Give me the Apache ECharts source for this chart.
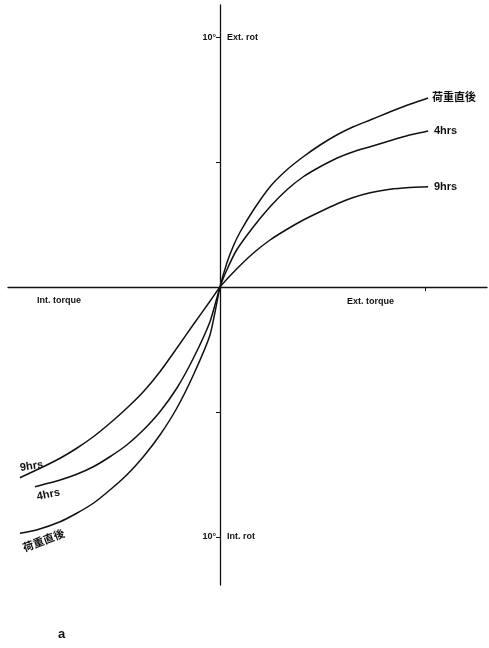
<!DOCTYPE html>
<html>
<head>
<meta charset="utf-8">
<script src="https://cdn.jsdelivr.net/npm/echarts@6/dist/echarts.min.js"></script>
<style>
  html, body { margin: 0; padding: 0; background: #fff; }
  #main { width: 489px; height: 648px; }
</style>
</head>
<body>
<div id="main"></div>
<script>
// 各曲线数据 [torque, rotation(deg)]
var curveInit = [
  [-9.76, -9.85], [-8.95, -9.72], [-7.80, -9.39], [-6.99, -9.05], [-6.18, -8.65],
  [-5.37, -8.12], [-4.55, -7.52], [-3.74, -6.79], [-2.93, -5.92], [-2.11, -4.85],
  [-1.30, -3.52], [-0.49, -1.92], [0, 0], [0.33, 0.95], [0.65, 1.64], [0.98, 2.2],
  [1.63, 3.08], [2.44, 4.01], [3.25, 4.68], [4.06, 5.21], [4.88, 5.68], [5.69, 6.08],
  [6.50, 6.41], [7.32, 6.68], [8.13, 6.95], [8.94, 7.21], [9.76, 7.45], [10.15, 7.56]
];
var curve4h = [
  [-9.02, -7.99], [-7.80, -7.72], [-6.99, -7.49], [-6.18, -7.19], [-5.37, -6.79],
  [-4.55, -6.32], [-3.74, -5.72], [-2.93, -4.99], [-2.11, -4.05], [-1.30, -2.85],
  [-0.49, -1.39], [0, 0], [0.33, 0.68], [0.81, 1.48], [1.63, 2.41], [2.44, 3.21],
  [3.25, 3.88], [4.06, 4.41], [4.88, 4.81], [5.69, 5.15], [6.50, 5.41], [7.32, 5.61],
  [8.13, 5.81], [8.94, 6.01], [9.76, 6.17], [10.15, 6.24]
];
var curve9h = [
  [-9.76, -7.63], [-8.62, -7.19], [-7.80, -6.85], [-6.99, -6.45], [-6.18, -5.99],
  [-5.37, -5.45], [-4.55, -4.85], [-3.74, -4.19], [-2.93, -3.39], [-2.11, -2.45],
  [-1.30, -1.50], [-0.49, -0.57], [0, 0], [0.81, 0.72], [1.63, 1.36], [2.44, 1.88],
  [3.25, 2.30], [4.06, 2.68], [4.88, 3.01], [5.69, 3.32], [6.50, 3.58], [7.32, 3.77],
  [8.13, 3.89], [8.94, 3.96], [9.76, 4.00], [10.15, 4.01]
];
var yTicks = [-10, -5, 5, 10];
var xTicks = [10];

var chart = echarts.init(document.getElementById('main'));

var lineSeries = function (name, data) {
  return {
    name: name,
    type: 'line',
    data: data,
    smooth: 0.2,
    symbol: 'none',
    silent: true,
    lineStyle: { color: '#111', width: 1.5 }
  };
};

var txt = function (x, y, text, opt) {
  opt = opt || {};
  return {
    type: 'text',
    x: x,
    y: y,
    rotation: opt.rot || 0,
    style: {
      text: text,
      fill: '#111',
      font: 'bold ' + (opt.size || 10) + 'px ' + (opt.family || '"Liberation Sans", Arial, sans-serif'),
      textAlign: opt.align || 'left',
      textVerticalAlign: 'middle'
    }
  };
};

var cjk = '"Noto Sans CJK JP", "Noto Sans CJK SC", sans-serif';

chart.setOption({
  animation: false,
  grid: { left: 8, right: 2, top: 5, bottom: 63, outerBoundsMode: 'none', containLabel: false },
  xAxis: {
    type: 'value',
    min: -10.34,
    max: 13.02,
    splitLine: { show: false },
    axisLine: { onZero: true, lineStyle: { color: '#111', width: 1.3 } },
    axisTick: { customValues: xTicks, length: 4, lineStyle: { color: '#111' } },
    axisLabel: { show: false }
  },
  yAxis: {
    type: 'value',
    min: -11.92,
    max: 11.28,
    splitLine: { show: false },
    axisLine: { onZero: true, lineStyle: { color: '#111', width: 1.3 } },
    axisTick: { customValues: yTicks, length: 4, lineStyle: { color: '#111' } },
    axisLabel: { show: false }
  },
  series: [
    lineSeries('荷重直後', curveInit),
    lineSeries('4hrs', curve4h),
    lineSeries('9hrs', curve9h)
  ],
  graphic: [
    txt(216, 38, '10\u00b0', { size: 9, align: 'right' }),
    txt(216, 537, '10\u00b0', { size: 9, align: 'right' }),
    txt(227, 38, 'Ext. rot', { size: 9 }),
    txt(227, 537, 'Int. rot', { size: 9 }),
    txt(37, 301, 'Int. torque', { size: 9 }),
    txt(347, 302, 'Ext. torque', { size: 9 }),
    txt(432, 97, '荷重直後', { size: 11, family: cjk }),
    txt(434, 131, '4hrs', { size: 11 }),
    txt(434, 187, '9hrs', { size: 11 }),
    txt(20, 468, '9hrs', { size: 11, rot: 0.15 }),
    txt(37, 497, '4hrs', { size: 11, rot: 0.2 }),
    txt(23, 548, '荷重直後', { size: 11, rot: 0.36, family: cjk }),
    txt(58, 634, 'a', { size: 13 })
  ]
});
</script>
</body>
</html>
